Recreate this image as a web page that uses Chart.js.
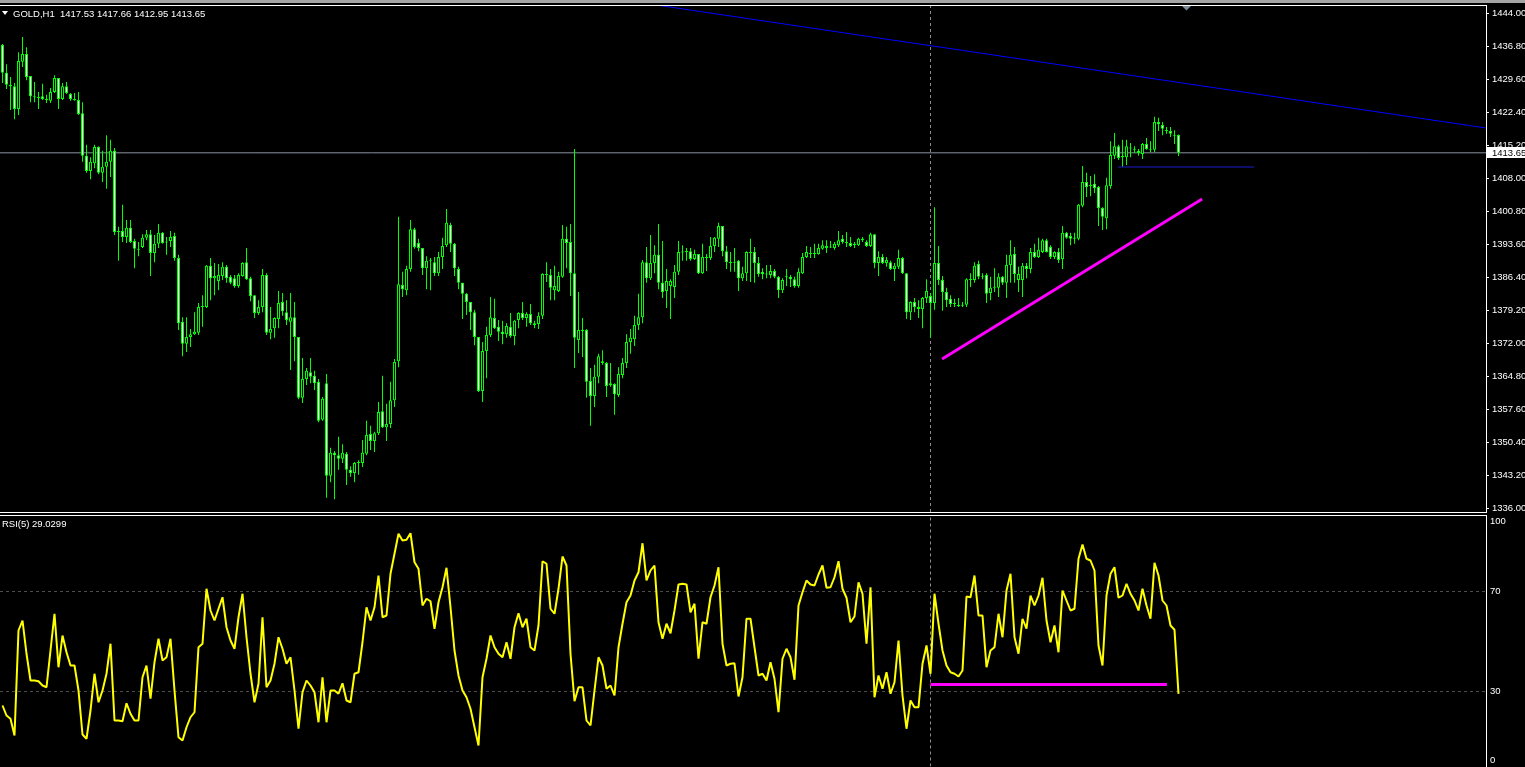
<!DOCTYPE html>
<html>
<head>
<meta charset="utf-8">
<title>GOLD,H1</title>
<script src="https://cdn.jsdelivr.net/npm/chart.js@4.4.1/dist/chart.umd.min.js"></script>
<style>
  html, body { margin: 0; padding: 0; background: #000; overflow: hidden; }
  body { width: 1525px; height: 767px; position: relative; font-family: "Liberation Sans", Arial, sans-serif; }
  #topbar { position: absolute; left: 0; top: 0; width: 1525px; height: 3px; background: #a4a4a4; }
  #cPrice { position: absolute; left: 0; top: 0; }
  #cRsi { position: absolute; left: 0; top: 513px; }
  .lbl { position: absolute; color: #fff; font-size: 9.5px; line-height: 11px; white-space: pre; }
  #tri { position: absolute; left: 2px; top: 11px; width: 0; height: 0;
         border-left: 3.5px solid transparent; border-right: 3.5px solid transparent; border-top: 4px solid #fff; }
</style>
</head>
<body>
<div id="topbar"></div>
<canvas id="cPrice" width="1525" height="513"></canvas>
<canvas id="cRsi" width="1525" height="254"></canvas>
<div id="tri"></div>
<div class="lbl" id="hdr" style="left:13px;top:8px"></div>
<div class="lbl" id="rsiHdr" style="left:2px;top:518px"></div>
<script>
// GOLD H1 candles
const opens = [
1437.2,1431.1,1428.5,1428.2,1423.2,1433.5,1435.2,1430.4,1426.0,1425.8,
1426.0,1425.4,1425.0,1426.9,1430.0,1425.4,1428.2,1426.5,1425.4,1425.2,
1422.3,1413.0,1409.7,1411.4,1414.9,1409.3,1410.6,1411.7,1414.1,1396.4,
1396.6,1395.3,1397.3,1394.4,1392.7,1393.1,1395.1,1395.9,1391.8,1393.8,
1396.2,1394.2,1394.4,1395.5,1390.7,1376.8,1372.0,1373.5,1374.1,1374.4,
1380.0,1380.0,1389.0,1386.3,1385.7,1386.8,1388.8,1386.6,1386.3,1384.6,
1386.8,1389.8,1386.3,1382.6,1378.7,1380.0,1387.0,1374.4,1375.4,1377.4,
1381.1,1378.9,1376.8,1377.8,1373.5,1360.2,1364.3,1365.8,1365.0,1363.7,
1355.4,1363.4,1343.2,1348.2,1347.7,1346.9,1348.0,1344.5,1343.8,1346.0,
1346.0,1348.0,1352.3,1350.8,1352.5,1357.3,1353.8,1354.5,1359.7,1368.2,
1384.8,1383.7,1388.3,1397.0,1394.0,1392.9,1388.5,1390.1,1389.8,1387.4,
1390.9,1393.5,1397.9,1393.8,1388.3,1385.3,1382.9,1381.1,1378.9,1373.5,
1361.7,1370.4,1373.9,1377.6,1375.7,1374.6,1374.1,1375.7,1373.7,1377.2,
1378.7,1377.6,1378.5,1376.5,1376.3,1378.1,1387.2,1387.0,1383.7,1383.5,
1386.6,1394.9,1394.2,1387.4,1372.8,1375.0,1375.0,1363.9,1360.6,1364.8,
1367.8,1367.8,1363.0,1363.2,1360.8,1365.2,1367.8,1372.4,1373.0,1376.1,
1377.8,1389.8,1386.3,1389.6,1391.4,1385.3,1383.5,1384.6,1384.4,1387.7,
1392.0,1392.0,1392.2,1390.5,1391.6,1387.4,1390.9,1390.7,1393.3,1394.9,
1397.7,1392.2,1389.8,1389.8,1390.1,1386.3,1387.4,1392.0,1392.0,1389.6,
1387.7,1387.2,1387.0,1387.9,1386.6,1383.7,1386.6,1386.6,1386.1,1384.6,
1387.4,1390.9,1391.8,1391.6,1391.6,1392.7,1393.3,1393.1,1392.9,1393.5,
1394.9,1394.2,1394.0,1393.5,1393.5,1394.9,1394.2,1393.3,1395.9,1389.6,
1390.9,1389.6,1389.8,1388.3,1388.8,1390.7,1387.4,1378.9,1381.1,1380.0,
1379.6,1382.0,1382.4,1380.9,1389.6,1385.9,1383.3,1381.8,1380.9,1380.5,
1380.5,1380.5,1386.1,1385.9,1389.4,1386.8,1387.0,1383.1,1384.2,1384.2,
1386.6,1385.3,1389.2,1391.6,1385.9,1385.9,1389.0,1388.3,1392.0,1390.9,
1392.0,1394.6,1393.1,1390.9,1392.0,1390.5,1396.2,1395.5,1394.9,1394.9,
1402.1,1407.3,1406.6,1406.9,1406.2,1401.6,1399.4,1406.4,1413.0,1415.1,
1412.7,1412.7,1414.7,1414.3,1414.1,1413.4,1415.6,1414.3,1414.3,1420.4,
1419.7,1418.6,1418.4,1417.5,1417.53];
const highs = [
1437.4,1433.0,1430.2,1428.9,1435.6,1438.9,1436.7,1430.4,1429.1,1426.9,
1428.7,1426.3,1427.8,1430.6,1430.0,1428.9,1429.1,1426.7,1426.7,1426.9,
1424.7,1415.4,1412.7,1415.4,1415.1,1414.1,1417.5,1416.5,1414.7,1397.5,
1402.3,1399.0,1399.0,1394.9,1394.2,1395.9,1396.8,1396.8,1395.7,1398.1,
1396.4,1395.3,1396.6,1396.2,1391.4,1377.8,1377.8,1375.2,1378.9,1380.9,
1382.6,1389.2,1390.7,1389.6,1389.4,1389.8,1389.2,1387.0,1387.0,1387.4,
1389.8,1392.9,1386.6,1382.6,1381.5,1388.3,1387.4,1380.0,1377.8,1383.5,
1383.1,1381.5,1383.1,1381.1,1373.5,1368.9,1366.7,1368.9,1366.1,1364.3,
1360.4,1365.4,1349.3,1348.6,1351.7,1350.1,1348.4,1345.3,1346.2,1346.6,
1351.0,1355.2,1354.1,1352.8,1359.3,1365.0,1358.9,1363.7,1368.7,1399.7,
1387.7,1389.0,1399.0,1397.3,1394.9,1392.9,1391.1,1390.7,1390.9,1392.0,
1395.1,1401.4,1398.4,1394.0,1388.8,1385.3,1383.1,1381.1,1379.4,1373.5,
1372.4,1375.7,1382.2,1381.8,1377.2,1377.0,1376.5,1378.7,1377.2,1378.9,
1381.1,1378.9,1380.7,1377.0,1378.9,1387.4,1389.8,1388.3,1389.0,1387.7,
1397.9,1397.5,1398.1,1414.5,1383.3,1377.6,1375.2,1366.7,1367.4,1369.8,
1370.6,1368.0,1367.8,1363.4,1366.9,1368.9,1374.1,1375.2,1378.1,1382.9,
1390.3,1393.1,1395.7,1393.5,1398.1,1394.4,1388.3,1386.1,1389.2,1394.4,
1393.5,1392.9,1392.9,1392.5,1391.6,1393.8,1391.6,1395.3,1395.3,1398.4,
1397.7,1393.3,1392.0,1392.9,1390.3,1388.8,1392.2,1394.9,1393.1,1390.9,
1388.5,1389.2,1389.2,1388.3,1386.8,1386.3,1388.3,1387.0,1386.6,1388.5,
1391.8,1393.3,1393.1,1393.8,1393.8,1394.6,1394.6,1394.4,1394.2,1396.6,
1395.7,1396.4,1395.3,1394.2,1395.1,1395.3,1394.6,1396.2,1395.9,1392.2,
1391.6,1390.9,1390.1,1389.6,1392.5,1390.9,1387.4,1381.3,1382.0,1381.5,
1382.2,1386.1,1383.1,1401.8,1393.3,1386.8,1384.2,1382.6,1381.8,1382.0,
1381.1,1386.3,1387.4,1389.8,1390.1,1387.4,1387.4,1386.6,1388.5,1387.4,
1386.8,1391.4,1394.6,1393.1,1388.8,1389.6,1389.6,1392.9,1393.8,1395.1,
1394.9,1394.9,1393.5,1392.2,1392.9,1397.7,1396.4,1396.2,1396.2,1402.5,
1410.8,1409.3,1408.6,1409.0,1406.4,1401.8,1408.2,1416.2,1418.0,1415.4,
1416.5,1416.5,1415.8,1415.1,1414.5,1415.8,1416.9,1416.2,1421.5,1421.3,
1420.4,1419.3,1419.3,1418.6,1417.66];
const lows = [
1428.9,1427.6,1423.0,1421.0,1421.9,1432.4,1429.5,1424.7,1424.7,1423.2,
1425.2,1424.5,1424.5,1426.7,1423.2,1425.2,1426.5,1425.0,1425.0,1421.9,
1411.7,1409.3,1407.9,1410.3,1409.0,1407.3,1405.8,1408.4,1395.7,1390.1,
1394.2,1394.0,1394.0,1388.5,1391.1,1392.9,1394.6,1386.8,1389.8,1392.9,
1393.8,1391.4,1393.1,1390.1,1375.0,1369.3,1370.2,1371.3,1373.9,1373.9,
1375.7,1379.8,1381.5,1382.6,1383.7,1385.9,1385.3,1385.0,1384.2,1384.2,
1386.6,1385.9,1381.3,1377.6,1378.3,1378.9,1373.9,1373.0,1373.3,1375.4,
1378.1,1376.1,1366.3,1368.2,1359.9,1359.1,1363.0,1363.4,1361.9,1354.9,
1355.2,1338.4,1341.8,1338.1,1344.5,1346.0,1341.2,1343.0,1341.8,1343.4,
1345.1,1347.7,1348.8,1348.4,1352.1,1353.6,1350.8,1353.6,1358.2,1366.9,
1382.2,1382.6,1387.7,1392.7,1392.2,1387.0,1383.9,1383.7,1386.8,1386.8,
1388.3,1393.1,1392.0,1386.8,1383.9,1377.4,1378.3,1375.0,1371.7,1361.5,
1359.3,1364.5,1373.5,1375.2,1372.6,1371.9,1373.3,1373.3,1371.7,1375.4,
1377.2,1375.7,1376.1,1375.4,1375.2,1377.4,1385.5,1381.5,1381.5,1383.3,
1386.4,1388.5,1382.4,1366.7,1370.0,1369.1,1360.2,1354.1,1358.2,1363.4,
1367.4,1360.4,1362.6,1356.5,1360.4,1364.5,1366.7,1369.8,1371.5,1375.0,
1376.5,1385.3,1385.9,1387.4,1383.9,1382.0,1379.8,1377.4,1382.0,1387.0,
1390.1,1390.1,1390.1,1390.3,1387.2,1387.2,1387.9,1390.3,1392.0,1393.1,
1391.1,1388.3,1387.7,1387.7,1383.5,1385.7,1385.7,1385.5,1385.3,1386.6,
1386.1,1386.3,1386.3,1386.3,1382.0,1383.1,1384.6,1384.4,1384.2,1384.2,
1387.2,1390.7,1390.7,1390.7,1391.4,1392.5,1391.8,1392.9,1392.5,1393.1,
1393.8,1393.1,1393.1,1392.9,1393.3,1394.2,1393.1,1393.1,1388.5,1386.8,
1389.4,1388.8,1388.1,1385.7,1388.3,1387.2,1377.4,1377.2,1378.9,1377.6,
1375.4,1380.9,1373.3,1379.4,1384.8,1379.2,1380.0,1380.0,1380.0,1380.0,
1380.0,1380.0,1384.4,1385.3,1386.1,1386.1,1380.9,1381.5,1383.3,1382.2,
1384.8,1382.0,1385.3,1385.3,1383.3,1382.2,1386.3,1387.4,1390.7,1390.7,
1391.8,1391.9,1390.5,1390.5,1389.6,1388.3,1394.9,1393.5,1393.8,1394.6,
1401.8,1404.0,1404.2,1404.9,1397.7,1396.8,1397.0,1405.8,1412.3,1412.1,
1410.6,1411.0,1412.7,1413.6,1413.0,1412.3,1414.3,1413.8,1413.8,1418.4,
1417.5,1417.8,1417.1,1415.6,1412.95];
const closes = [
1431.1,1428.5,1428.2,1423.2,1433.7,1435.2,1430.2,1426.0,1425.8,1425.6,
1425.4,1425.2,1426.9,1430.0,1425.4,1428.2,1426.7,1425.4,1425.2,1422.1,
1413.0,1409.7,1411.7,1414.9,1409.3,1410.6,1411.7,1414.1,1396.4,1396.6,
1395.3,1397.3,1394.2,1392.7,1392.5,1395.1,1395.9,1391.8,1393.8,1396.2,
1394.0,1394.1,1395.3,1390.7,1376.5,1372.0,1373.5,1374.1,1374.6,1380.0,
1380.2,1389.0,1386.3,1386.8,1387.0,1388.8,1386.3,1385.3,1384.6,1387.0,
1389.6,1386.1,1382.4,1378.7,1380.0,1387.0,1374.4,1375.2,1377.6,1380.9,
1379.1,1377.2,1377.8,1373.5,1360.2,1364.3,1366.1,1364.8,1363.4,1355.2,
1360.0,1343.2,1348.2,1347.7,1346.9,1348.2,1344.5,1343.8,1346.0,1346.2,
1348.2,1352.1,1350.8,1352.5,1357.1,1353.8,1354.5,1359.7,1368.0,1385.0,
1383.9,1388.3,1397.0,1393.1,1392.9,1388.5,1390.1,1390.3,1387.4,1390.9,
1393.3,1398.4,1393.8,1388.5,1385.3,1382.9,1381.1,1378.9,1373.5,1361.7,
1370.4,1373.9,1377.8,1375.4,1374.6,1374.1,1375.9,1373.7,1377.0,1378.7,
1377.6,1378.5,1376.5,1376.1,1378.1,1387.2,1387.0,1384.2,1384.6,1386.8,
1394.9,1394.0,1387.4,1373.3,1375.0,1374.8,1363.7,1360.6,1364.8,1369.3,
1368.2,1362.8,1363.4,1361.0,1365.4,1367.8,1372.4,1373.3,1376.1,1377.8,
1389.8,1386.3,1389.6,1391.4,1385.3,1383.3,1385.7,1385.7,1387.7,1392.0,
1391.9,1392.2,1390.5,1391.6,1387.4,1390.9,1390.7,1393.3,1395.1,1397.7,
1392.2,1389.8,1389.6,1389.7,1386.3,1387.4,1392.0,1391.8,1389.6,1387.2,
1387.2,1387.1,1387.9,1386.6,1383.7,1385.9,1386.8,1386.1,1384.6,1387.7,
1390.9,1392.0,1391.6,1391.8,1392.9,1393.5,1392.9,1393.0,1393.8,1394.6,
1394.2,1394.0,1393.3,1393.8,1394.9,1394.6,1393.3,1395.9,1389.6,1390.9,
1389.6,1390.3,1388.3,1389.0,1390.7,1387.4,1378.9,1381.1,1380.0,1379.6,
1382.0,1383.5,1380.9,1389.6,1385.9,1383.3,1381.5,1380.7,1380.7,1380.2,
1380.3,1386.1,1385.9,1389.0,1386.6,1386.6,1382.9,1384.2,1384.4,1386.6,
1385.3,1389.2,1391.4,1387.2,1387.2,1389.0,1388.3,1392.0,1390.9,1392.5,
1394.6,1392.0,1390.9,1392.0,1390.3,1396.2,1395.1,1394.9,1395.0,1402.3,
1407.3,1406.2,1406.4,1406.0,1401.6,1399.7,1406.6,1413.2,1415.1,1412.5,
1413.0,1415.1,1414.6,1414.2,1413.6,1415.6,1414.5,1414.5,1420.4,1419.9,
1418.9,1418.4,1417.8,1417.4,1413.65];

// RSI(5)
const rsi = [
24.4,20.4,19.1,12.4,54.4,58.4,45.1,34.4,34.4,34.1,
32.4,31.7,46.4,61.1,39.7,52.4,45.7,40.4,40.4,30.4,
12.8,11.1,22.4,37.1,25.7,30.4,37.1,49.1,18.4,18.4,
18.1,25.3,21.1,18.4,18.4,35.7,40.4,27.1,41.7,51.1,
42.4,43.7,51.1,30.4,11.7,10.4,15.7,19.7,21.7,47.7,
49.1,71.1,62.4,58.4,63.1,67.7,55.7,50.4,47.1,59.7,
69.1,51.7,37.1,25.7,33.1,59.7,31.7,34.4,41.1,51.7,
47.1,41.1,43.7,30.4,15.1,29.7,34.4,32.4,29.7,17.7,
35.7,17.7,30.4,30.4,29.1,33.3,26.4,25.7,37.1,37.7,
49.7,63.7,58.4,63.7,76.4,59.7,60.4,77.1,85.1,93.1,
90.4,90.7,93.3,81.7,79.1,64.4,67.1,66.1,55.1,65.7,
71.7,79.5,63.7,46.4,36.4,30.4,27.7,23.1,15.7,8.4,
35.7,43.1,52.4,47.7,45.1,43.7,49.7,43.1,55.7,61.3,
55.7,59.1,47.7,46.4,56.4,82.1,81.1,63.1,61.1,71.1,
84.0,80.4,45.1,26.1,31.7,31.7,18.4,16.4,30.4,43.7,
40.4,31.1,32.4,28.4,47.7,57.1,65.7,68.4,74.4,77.7,
89.3,74.4,78.4,80.4,57.7,51.1,57.1,53.3,62.4,72.8,
73.1,72.8,61.7,65.1,43.1,57.7,57.1,67.7,72.4,79.7,
49.1,40.4,41.1,41.3,28.0,35.7,59.1,59.1,47.7,36.4,
37.1,34.4,41.7,35.1,21.7,43.1,47.1,43.7,34.7,64.4,
69.7,74.4,72.8,72.4,76.8,80.4,71.5,71.7,75.7,82.1,
71.1,67.5,57.7,60.0,73.7,69.1,49.1,71.7,27.7,36.4,
31.1,37.7,29.1,33.7,50.4,28.4,15.1,26.4,23.7,23.7,
41.1,48.4,37.1,69.1,57.1,46.4,40.4,37.7,37.1,36.0,
38.4,68.0,67.7,76.4,60.4,60.4,39.7,46.4,47.7,61.1,
51.7,70.4,77.1,51.7,45.1,59.1,55.1,68.4,64.4,68.4,
75.5,58.4,49.7,56.4,45.7,70.4,66.4,62.4,63.1,83.1,
88.8,83.1,82.4,78.4,48.4,40.4,68.4,77.1,79.7,67.5,
68.4,73.1,69.1,66.4,62.4,71.1,64.4,59.1,81.5,76.4,
66.4,64.4,56.4,54.7,29.0299];

const priceTicks = [1336.0, 1343.2, 1350.4, 1357.6, 1364.8, 1372.0, 1379.2, 1386.4,
                    1393.6, 1400.8, 1408.0, 1415.2, 1422.4, 1429.6, 1436.8, 1444.0];
const rsiTicks = [0, 30, 70, 100];
const rsiLevels = [30, 70];
const symbol = 'GOLD,H1';
const bid = 1413.65;

// drawn objects, in bar index / price units
const sepBar = 232;
const blueTrend = [[160, 1446.34], [370.875, 1419.07]];
const blueLevel = [[278.9, 1410.56], [312.9, 1410.56]];
const pinkTrend = [[234.9, 1368.67], [299.9, 1403.58]];
const pinkRsi = [[232, 32.8], [291.1, 32.8]];
const shiftMark = 296;

const xMin = -0.625, xMax = 370.875;
const pMin = 1335.3, pMax = 1445.9;
const FONT = '"Liberation Sans", Arial, sans-serif';

Chart.defaults.font.family = FONT;

const last = closes.length - 1;
document.getElementById('hdr').textContent = symbol + '  ' +
  [opens[last], highs[last], lows[last], closes[last]].map(v => v.toFixed(2)).join(' ');
document.getElementById('rsiHdr').textContent = 'RSI(5) ' + rsi[last].toFixed(4);

const idx = closes.map((_, i) => i);

function seg(points, color, width, dash, order) {
  return {
    type: 'line', order: order,
    data: points.map(p => ({ x: p[0], y: p[1] })),
    borderColor: color, borderWidth: width, borderDash: dash || [],
    pointRadius: 0, fill: false, tension: 0, borderCapStyle: 'butt'
  };
}

function fitAxis(s) {
  s.width = 39;
  s.paddingTop = 0; s.paddingBottom = 0; s.paddingLeft = 0; s.paddingRight = 0;
}

const framePlugin = {
  id: 'frame',
  afterDraw(chart, args, opts) {
    const ctx = chart.ctx, a = chart.chartArea;
    ctx.save();
    ctx.fillStyle = '#ffffff';
    (opts.rows || []).forEach(r => ctx.fillRect(0, r, a.right + 1, 1));
    ctx.restore();
  }
};

const bidPlugin = {
  id: 'bidLabel',
  afterDraw(chart) {
    const ctx = chart.ctx, a = chart.chartArea;
    const y = chart.scales.y.getPixelForValue(bid);
    ctx.save();
    ctx.fillStyle = '#ffffff';
    ctx.fillRect(a.right + 1, Math.round(y) - 6, 40, 11);
    ctx.fillStyle = '#000000';
    ctx.font = '9.5px ' + FONT;
    ctx.textBaseline = 'middle';
    ctx.textAlign = 'left';
    ctx.fillText(bid.toFixed(2), a.right + 6, y + 0.5);
    // chart shift marker
    const x = chart.scales.x.getPixelForValue(shiftMark);
    ctx.fillStyle = '#7d8896';
    ctx.beginPath();
    ctx.moveTo(x - 4.5, a.top + 1);
    ctx.lineTo(x + 4.5, a.top + 1);
    ctx.lineTo(x, a.top + 5.5);
    ctx.closePath();
    ctx.fill();
    ctx.restore();
  }
};

const rsiLabelPlugin = {
  id: 'rsiLabels',
  afterDraw(chart) {
    const ctx = chart.ctx, a = chart.chartArea, ys = chart.scales.y;
    ctx.save();
    ctx.fillStyle = '#ffffff';
    ctx.font = '9.5px ' + FONT;
    ctx.textBaseline = 'middle';
    ctx.textAlign = 'left';
    rsiTicks.forEach(v => {
      let y = ys.getPixelForValue(v);
      if (v === 100) y += 5;
      if (v === 0) y -= 6;
      ctx.fillText(String(v), a.right + 4, y);
    });
    ctx.restore();
  }
};

// price panel
new Chart(document.getElementById('cPrice'), {
  type: 'bar',
  data: {
    datasets: [
      seg(blueTrend, '#0000ff', 1, [], -2),
      seg(pinkTrend, '#ff00ff', 3, [], -2),
      seg(blueLevel, '#1c1cd0', 1, [], -1),
      {
        type: 'bar', order: 0,
        data: idx.map(i => ({ x: i, y: [opens[i], closes[i]] })),
        backgroundColor: idx.map(i => closes[i] < opens[i] ? '#ffffff' : '#000000'),
        borderColor: '#00ff00', borderWidth: 1, borderSkipped: false,
        barThickness: 3, grouped: false, inflateAmount: 0, minBarLength: 1
      },
      {
        type: 'bar', order: 1,
        data: idx.map(i => ({ x: i, y: [lows[i], highs[i]] })),
        backgroundColor: '#00ff00', borderWidth: 0,
        barThickness: 1, grouped: false, inflateAmount: 0
      },
      seg([[xMin, bid], [xMax, bid]], '#8a94a0', 1, [], 3),
      seg([[sepBar, pMin], [sepBar, pMax]], '#8c8c8c', 1, [3, 3], 4)
    ]
  },
  options: {
    responsive: false, animation: false, devicePixelRatio: 1, events: [],
    layout: { padding: { top: 5, bottom: 1, left: 0, right: 0 } },
    plugins: { legend: { display: false }, tooltip: { enabled: false }, frame: { rows: [5, 512] } },
    scales: {
      x: { type: 'linear', min: xMin, max: xMax, offset: false, display: false, bounds: 'data',
           grid: { offset: false } },
      y: {
        position: 'right', min: pMin, max: pMax, bounds: 'data', beginAtZero: false,
        afterFit: fitAxis,
        afterBuildTicks: s => { s.ticks = priceTicks.map(v => ({ value: v })); },
        ticks: { autoSkip: false, padding: 3, color: '#ffffff', font: { size: 9.5 },
                 callback: v => Number(v).toFixed(2) },
        grid: { drawOnChartArea: false, drawTicks: true, tickLength: 3, color: '#ffffff' },
        border: { display: true, color: '#ffffff', width: 1 }
      }
    }
  },
  plugins: [framePlugin, bidPlugin]
});

// RSI panel
new Chart(document.getElementById('cRsi'), {
  type: 'line',
  data: {
    datasets: [
      {
        order: 0,
        data: idx.map(i => ({ x: i, y: rsi[i] })),
        borderColor: '#ffff00', borderWidth: 2, pointRadius: 0, fill: false,
        tension: 0, borderJoinStyle: 'bevel'
      },
      seg(pinkRsi, '#ff00ff', 3, [], 1),
      ...rsiLevels.map(l => seg([[xMin, l], [xMax, l]], '#4c4c4c', 1, [3, 3], 2)),
      seg([[sepBar, 0], [sepBar, 100]], '#8c8c8c', 1, [3, 3], 3)
    ]
  },
  options: {
    responsive: false, animation: false, devicePixelRatio: 1, events: [],
    layout: { padding: { top: 3.5, bottom: 0.5, left: 0, right: 0 } },
    plugins: { legend: { display: false }, tooltip: { enabled: false }, frame: { rows: [2] } },
    scales: {
      x: { type: 'linear', min: xMin, max: xMax, offset: false, display: false, bounds: 'data' },
      y: {
        position: 'right', min: 0, max: 100, bounds: 'data',
        afterFit: fitAxis,
        ticks: { display: false },
        grid: { drawOnChartArea: false, drawTicks: false },
        border: { display: true, color: '#ffffff', width: 1 }
      }
    }
  },
  plugins: [framePlugin, rsiLabelPlugin]
});
</script>
</body>
</html>
